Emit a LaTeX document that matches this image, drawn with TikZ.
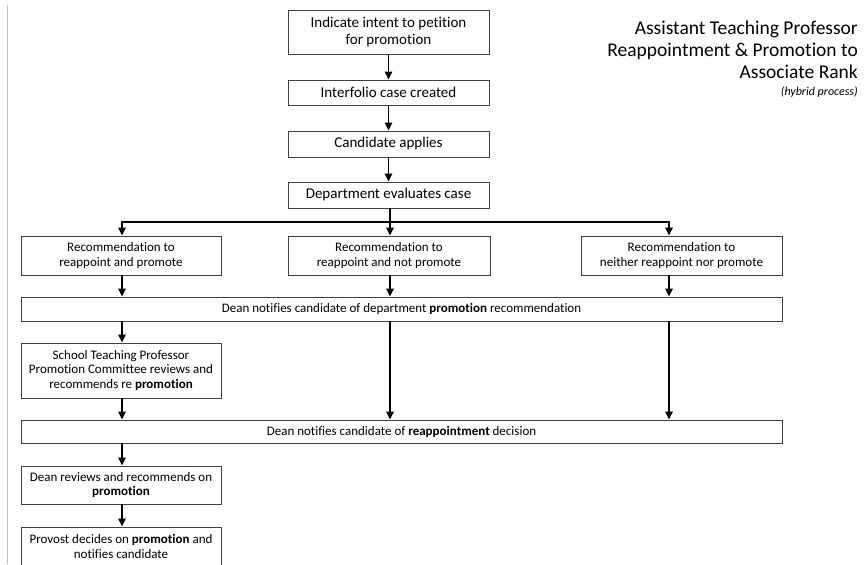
\documentclass[tikz,border=0pt]{standalone}
\usepackage{fontspec}
\setmainfont{Carlito}[Ligatures=NoCommon]
\usetikzlibrary{arrows.meta}
\begin{document}
\begin{tikzpicture}[x=1pt,y=-1pt,
  box/.style={draw=black!75, line width=0.9pt, align=center, inner sep=0pt,
    font=\fontsize{13}{14.8}\selectfont},
  bigbox/.style={box, font=\fontsize{15}{17}\selectfont},
  arr/.style={line width=1.5pt, -{Triangle[length=8pt,width=7.5pt]}},
  ln/.style={line width=1.5pt},
  ttl/.style={anchor=base east, inner sep=0pt, font=\fontsize{19.5}{22}\selectfont}]
\useasboundingbox (0,0) rectangle (866,564);
\draw[black!25, line width=1.3pt] (7.5,5) -- (7.5,564);
% top column
\node[bigbox, minimum width=201pt, minimum height=44pt] (b1) at (388.5,32) {Indicate intent to petition\\for promotion};
\node[bigbox, minimum width=201pt, minimum height=25pt] (b2) at (388.5,92.5) {Interfolio case created};
\node[bigbox, minimum width=201pt, minimum height=26pt] (b3) at (388.5,144) {Candidate applies};
\node[bigbox, minimum width=201pt, minimum height=26pt] (b4) at (388.5,195) {Department evaluates case};
% recommendations
\node[box, minimum width=200pt, minimum height=39pt] (r1) at (121,255.5) {Recommendation to\\reappoint and promote};
\node[box, minimum width=202pt, minimum height=39pt] (r2) at (389,255.5) {Recommendation to\\reappoint and not promote};
\node[box, minimum width=201pt, minimum height=39pt] (r3) at (681.5,255.5) {Recommendation to\\neither reappoint nor promote};
% dean notifies promotion
\node[box, minimum width=761pt, minimum height=24pt] (d1) at (401.5,309) {Dean notifies candidate of department \textbf{promotion} recommendation};
\node[box, minimum width=200pt, minimum height=55pt] (s1) at (121,370.5) {School Teaching Professor\\Promotion Committee reviews and\\recommends re \textbf{promotion}};
\node[box, minimum width=761pt, minimum height=23pt] (d2) at (401.5,431.5) {Dean notifies candidate of \textbf{reappointment} decision};
\node[box, minimum width=200pt, minimum height=38pt] (dr) at (121,485) {Dean reviews and recommends on\\\textbf{promotion}};
\node[box, minimum width=200pt, minimum height=39pt] (pv) at (121,546.5) {Provost decides on \textbf{promotion} and\\notifies candidate};
% title
\node[ttl] (t1) at (858,34.5) {Assistant Teaching Professor};
\node[ttl] (t2) at (858,56.5) {Reappointment \& Promotion to};
\node[ttl] (t3) at (858,78.5) {Associate Rank};
\node[ttl, font=\fontsize{12}{14}\selectfont\itshape] (t4) at (858,96) {(hybrid process)};
% connectors
\draw[arr] (b1) -- (b2);
\draw[arr] (b2) -- (b3);
\draw[arr] (b3) -- (b4);
\coordinate (j) at (390,222);
\draw[ln] (b4.south -| j) -- (j);
\draw[arr] (j) -| ([xshift=1pt]r1.north);
\draw[arr] (j) -- (j |- r2.north);
\draw[arr] (j) -| ([xshift=-12.5pt]r3.north);
\draw[arr] ([xshift=1pt]r1.south) -- ([xshift=1pt]r1.south |- d1.north);
\draw[arr] (j |- r2.south) -- (j |- d1.north);
\draw[arr] ([xshift=-12.5pt]r3.south) -- ([xshift=-12.5pt]r3.south |- d1.north);
\draw[arr] ([xshift=1pt]s1.north |- d1.south) -- ([xshift=1pt]s1.north);
\draw[arr] (j |- d1.south) -- (j |- d2.north);
\draw[arr] ([xshift=-12.5pt]r3.south |- d1.south) -- ([xshift=-12.5pt]r3.south |- d2.north);
\draw[arr] ([xshift=1pt]s1.south) -- ([xshift=1pt]s1.south |- d2.north);
\draw[arr] ([xshift=1pt]dr.north |- d2.south) -- ([xshift=1pt]dr.north);
\draw[arr] ([xshift=1pt]dr.south) -- ([xshift=1pt]pv.north);
\end{tikzpicture}
\end{document}
